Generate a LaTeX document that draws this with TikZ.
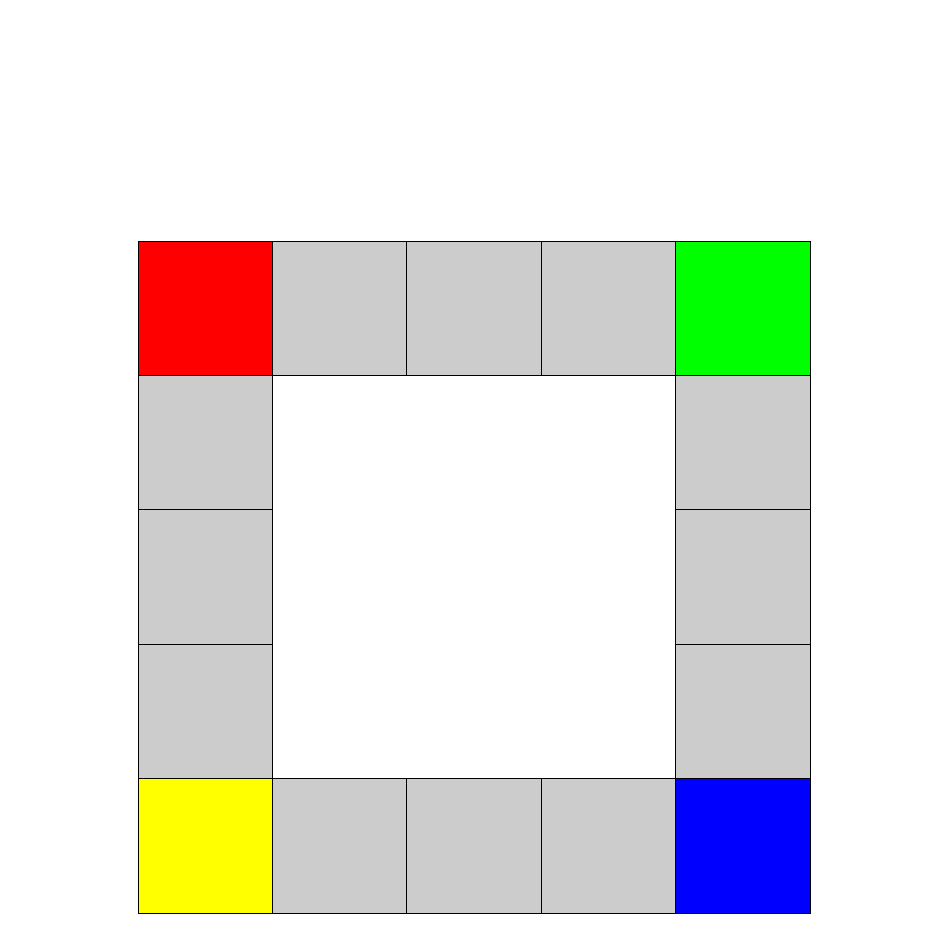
\documentclass[tikz,border=0pt]{standalone}
\definecolor{cellgray}{RGB}{204,204,204}
\definecolor{cellred}{RGB}{255,0,0}
\definecolor{cellgreen}{RGB}{0,255,0}
\definecolor{cellyellow}{RGB}{255,255,0}
\definecolor{cellblue}{RGB}{0,0,255}
\begin{document}
\begin{tikzpicture}[x=0.02cm,y=-0.02cm,
  cell/.style={draw=black, line width=0.5pt, minimum size=2.688cm, inner sep=0pt, outer sep=0pt, anchor=north west},
  grayc/.style={cell, fill=cellgray}]
\useasboundingbox (0,0) rectangle (949,933);
\fill[white] (0,0) rectangle (949,933);
% top row
\node[cell, fill=cellred] (t0) at (138,241) {};
\node[grayc] (t1) at (272.4,241) {};
\node[grayc] (t2) at (406.8,241) {};
\node[grayc] (t3) at (541.2,241) {};
\node[cell, fill=cellgreen] (t4) at (675.6,241) {};
% left column
\node[grayc] (l1) at (138,375.4) {};
\node[grayc] (l2) at (138,509.8) {};
\node[grayc] (l3) at (138,644.2) {};
% right column
\node[grayc] (r1) at (675.6,375.4) {};
\node[grayc] (r2) at (675.6,509.8) {};
\node[grayc] (r3) at (675.6,644.2) {};
% bottom row
\node[cell, fill=cellyellow] (b0) at (138,778.6) {};
\node[grayc] (b1) at (272.4,778.6) {};
\node[grayc] (b2) at (406.8,778.6) {};
\node[grayc] (b3) at (541.2,778.6) {};
\node[cell, fill=cellblue] (b4) at (675.6,778.6) {};
\end{tikzpicture}
\end{document}
